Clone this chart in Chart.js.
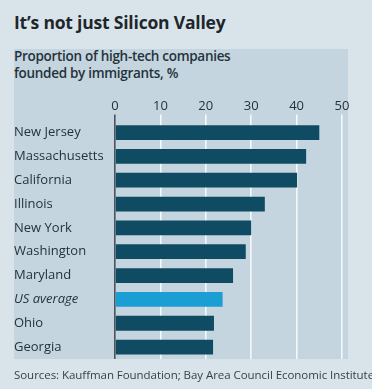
<!DOCTYPE html>
<html>
<head>
<meta charset="utf-8">
<script src="https://cdn.jsdelivr.net/npm/chart.js@4"></script>
<style>
    html, body { margin: 0; padding: 0; }
    body {
        width: 372px; height: 389px; overflow: hidden; position: relative;
        background: #d9e4ea; font-family: "Open Sans", sans-serif; color: #26323a;
    }
    #panel { position: absolute; left: 14px; top: 49px; width: 334px; height: 310px; background: #c4d5df; }
    #title { position: absolute; left: 14px; top: 10px; font-size: 17.5px; font-weight: 700; color: #1f262b; letter-spacing: -0.2px; }
    #sub { position: absolute; left: 14px; top: 48px; font-size: 13.5px; line-height: 17px; font-weight: 600; color: #26323a; letter-spacing: -0.3px; }
    #source { position: absolute; left: 14px; top: 367px; font-size: 11.5px; color: #353f46; white-space: nowrap; letter-spacing: -0.05px; }
    #wrap { position: absolute; left: 0; top: 0; width: 372px; height: 389px; }
</style>
</head>
<body>
<div id="panel"></div>
<div id="title">It’s not just Silicon Valley</div>
<div id="sub">Proportion of high-tech companies<br>founded by immigrants, %</div>
<div id="wrap"><canvas id="chart"></canvas></div>
<div id="source">Sources: Kauffman Foundation; Bay Area Council Economic Institute</div>

<script>
// ============================================
// Data
// ============================================
var states = ['New Jersey', 'Massachusetts', 'California', 'Illinois', 'New York',
    'Washington', 'Maryland', 'US average', 'Ohio', 'Georgia'];
var shares = [45, 42.1, 40.1, 33, 30, 28.8, 26, 23.7, 21.8, 21.6];
var highlight = 'US average';
var xTicks = [0, 10, 20, 30, 40, 50];

var DARK = '#0f4c63';
var LIGHT = '#1a9ed3';

// ============================================
// Chart
// ============================================
var ctx = document.getElementById('chart');

new Chart(ctx, {
    type: 'bar',
    data: {
        labels: states,
        datasets: [{
            data: shares,
            backgroundColor: states.map(function(s) { return s === highlight ? LIGHT : DARK; }),
            borderWidth: 0,
            barPercentage: 0.62,
            categoryPercentage: 1
        }]
    },
    options: {
        indexAxis: 'y',
        responsive: true,
        maintainAspectRatio: false,
        animation: false,
        layout: {
            padding: { left: 14, right: 30, top: 97, bottom: 30 }
        },
        plugins: {
            legend: { display: false },
            tooltip: { enabled: false }
        },
        scales: {
            x: {
                position: 'top',
                min: 0,
                max: 50,
                afterBuildTicks: function(scale) {
                    scale.ticks = xTicks.map(function(v) { return { value: v }; });
                },
                border: { display: false },
                grid: {
                    color: function(c) { return c.index === 0 ? '#4a555c' : '#f4f8fa'; },
                    lineWidth: 1.6,
                    tickLength: 6
                },
                ticks: {
                    color: '#26323a',
                    padding: 1,
                    font: { family: 'Open Sans', size: 13 }
                }
            },
            y: {
                border: { display: false },
                grid: { display: false, drawTicks: false },
                afterFit: function(scale) { scale.width = 101; },
                ticks: {
                    crossAlign: 'far',
                    padding: 0,
                    color: '#26323a',
                    font: function(c) {
                        return {
                            family: 'Open Sans',
                            size: 13,
                            weight: 500,
                            style: states[c.index] === highlight ? 'italic' : 'normal'
                        };
                    }
                }
            }
        }
    }
});
</script>
</body>
</html>
